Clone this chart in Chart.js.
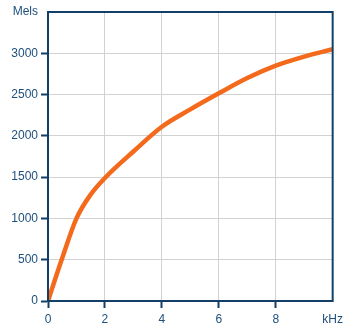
<!DOCTYPE html>
<html>
<head>
<meta charset="utf-8">
<script src="https://cdn.jsdelivr.net/npm/chart.js@4"></script>
<style>
  html, body { margin: 0; padding: 0; background: #fff; }
  #wrap { width: 347px; height: 333px; }
</style>
</head>
<body>
<div id="wrap"><canvas id="melChart"></canvas></div>
<script>
// Mel scale vs frequency
const freqKHz = [0, 0.5, 1, 1.5, 2, 3, 4, 5, 6, 7, 8, 9, 10];
const mels = [0, 520, 1000, 1290, 1490, 1810, 2110, 2320, 2515, 2700, 2850, 2960, 3050];
const xTicks = [0, 2, 4, 6, 8, 10];
const yTicks = [0, 500, 1000, 1500, 2000, 2500, 3000, 3500];

const navy = '#123f68';
const labelBlue = '#1d4f7e';

// draw the full box round the plot area
const frame = {
  id: 'frame',
  afterDraw(chart) {
    const a = chart.chartArea;
    const c = chart.ctx;
    c.save();
    c.strokeStyle = navy;
    c.lineWidth = 2;
    c.strokeRect(a.left, a.top, a.right - a.left, a.bottom - a.top);
    c.restore();
  }
};

const ctx = document.getElementById('melChart');

new Chart(ctx, {
  type: 'scatter',
  data: {
    datasets: [{
      data: freqKHz.map((f, i) => ({ x: f, y: mels[i] })),
      showLine: true,
      borderColor: '#f36a1d',
      borderWidth: 4.5,
      pointRadius: 0,
      cubicInterpolationMode: 'monotone'
    }]
  },
  options: {
    maintainAspectRatio: false,
    responsive: true,
    animation: false,
    layout: { padding: { top: 12, right: 14, left: 0, bottom: 0 } },
    plugins: { legend: { display: false }, tooltip: { enabled: false } },
    scales: {
      x: {
        type: 'linear',
        min: 0,
        max: 10,
        afterBuildTicks: s => { s.ticks = xTicks.map(v => ({ value: v })); },
        afterFit: s => { s.height = 32; },
        ticks: {
          color: labelBlue,
          font: { family: 'Liberation Sans, Arial, sans-serif', size: 12 },
          padding: 4,
          maxRotation: 0,
          callback: v => v === 10 ? 'kHz' : v
        },
        grid: {
          color: ctx => ctx.tick && ctx.tick.value === 0 ? 'transparent' : '#d2d2d2',
          lineWidth: 1,
          tickLength: 7,
          tickWidth: 2,
          tickColor: ctx => ctx.tick && ctx.tick.value === 10 ? 'transparent' : navy
        },
        border: { color: navy, width: 2 }
      },
      y: {
        min: 0,
        max: 3500,
        afterBuildTicks: s => { s.ticks = yTicks.map(v => ({ value: v })); },
        afterFit: s => { s.width = 48; },
        ticks: {
          color: labelBlue,
          font: { family: 'Liberation Sans, Arial, sans-serif', size: 12 },
          padding: 3,
          callback: v => v === 3500 ? 'Mels' : v
        },
        grid: {
          color: ctx => ctx.tick && ctx.tick.value === 0 ? 'transparent' : '#d2d2d2',
          lineWidth: 1,
          tickLength: 7,
          tickWidth: 2,
          tickColor: ctx => ctx.tick && ctx.tick.value === 3500 ? 'transparent' : navy
        },
        border: { color: navy, width: 2 }
      }
    }
  },
  plugins: [frame]
});
</script>
</body>
</html>
